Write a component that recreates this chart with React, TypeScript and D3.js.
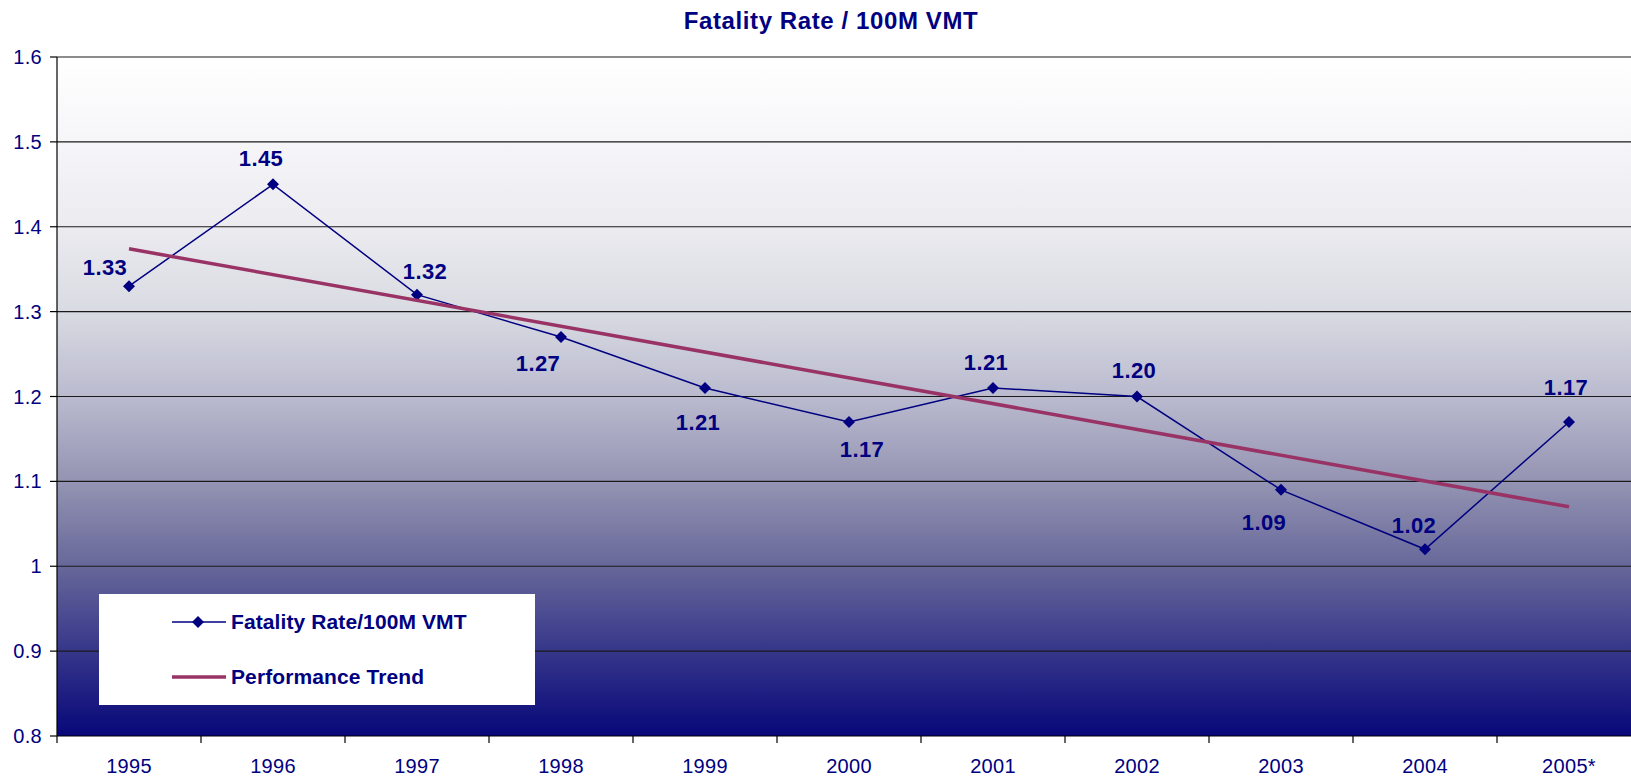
import React from "react";
import * as d3 from "d3";

const categories = ["1995", "1996", "1997", "1998", "1999", "2000", "2001", "2002", "2003", "2004", "2005*"];
const fatalityRate = [1.33, 1.45, 1.32, 1.27, 1.21, 1.17, 1.21, 1.2, 1.09, 1.02, 1.17];
const trendCategories = ["1995", "2005*"];
const trendValues = [1.374, 1.07];
const yTicks = [0.8, 0.9, 1.0, 1.1, 1.2, 1.3, 1.4, 1.5, 1.6];
const labelTexts = ["1.33", "1.45", "1.32", "1.27", "1.21", "1.17", "1.21", "1.20", "1.09", "1.02", "1.17"];
// label offsets (dx, dy of baseline) relative to the point, in pixels
const labelOffsets: [number, number][] = [
  [-24, -11], [-12, -18], [8, -16], [-23, 34], [-7, 42], [13, 35],
  [-7, -18], [-3, -19], [-17, 40], [-11, -16], [-3, -27],
];

const W = 1631;
const H = 778;
const M = { left: 57, top: 57, right: 1641, bottom: 736 };
const NAVY = "#000080";
const TREND = "#993366";
const FONT = "'Liberation Sans', Arial, sans-serif";

export default function App() {
  const x = d3.scaleBand<string>().domain(categories).range([M.left, M.right]).padding(0);
  const y = d3.scaleLinear().domain([0.8, 1.6]).range([M.bottom, M.top]);
  const cx = (c: string) => (x(c) as number) + x.bandwidth() / 2;

  const line = d3
    .line<number>()
    .x((_, i) => cx(categories[i]))
    .y((d) => y(d));
  const trendLine = d3
    .line<number>()
    .x((_, i) => cx(trendCategories[i]))
    .y((d) => y(d));

  const diamond = (px: number, py: number, r: number) =>
    `M${px},${py - r}L${px + r},${py}L${px},${py + r}L${px - r},${py}Z`;

  const boundaries = categories.map((c) => x(c) as number).concat([M.right]);

  return (
    <svg
      width={W}
      height={H}
      style={{ position: "absolute", left: 0, top: 0, display: "block", background: "#fff" }}
      fontFamily={FONT}
    >
      <defs>
        <linearGradient id="bg" x1="0" y1="0" x2="0" y2="1">
          <stop offset="0" stopColor="#ffffff" />
          <stop offset="0.125" stopColor="#f6f6f9" />
          <stop offset="0.25" stopColor="#ebebf0" />
          <stop offset="0.375" stopColor="#d9dbe2" />
          <stop offset="0.5" stopColor="#babacf" />
          <stop offset="0.625" stopColor="#9494b3" />
          <stop offset="0.75" stopColor="#67679a" />
          <stop offset="0.875" stopColor="#36368a" />
          <stop offset="1" stopColor="#07077a" />
        </linearGradient>
        <clipPath id="clip">
          <rect x={0} y={0} width={W} height={H} />
        </clipPath>
      </defs>

      <text x={831} y={29} textAnchor="middle" fontSize={24} fontWeight="bold" fill={NAVY} letterSpacing={0.6}>
        Fatality Rate / 100M VMT
      </text>

      <rect x={M.left} y={M.top} width={M.right - M.left} height={M.bottom - M.top} fill="url(#bg)" />

      {yTicks.map((t) => (
        <g key={t}>
          {t > 0.8 && (
            <line x1={M.left} x2={M.right} y1={y(t)} y2={y(t)} stroke="#1a1a1a" strokeWidth={1.2} />
          )}
          <line x1={M.left - 7} x2={M.left} y1={y(t)} y2={y(t)} stroke="#000" strokeWidth={1.2} />
          <text x={42} y={y(t) + 7} textAnchor="end" fontSize={20} fill={NAVY} letterSpacing={0.3}>
            {d3.format("")(+t.toFixed(1))}
          </text>
        </g>
      ))}

      <line x1={M.left} x2={M.left} y1={M.top} y2={M.bottom} stroke="#000" strokeWidth={1.2} />
      <line x1={M.left} x2={M.right} y1={M.bottom} y2={M.bottom} stroke="#000" strokeWidth={1.2} />
      {boundaries.map((b, i) => (
        <line key={i} x1={b} x2={b} y1={M.bottom} y2={M.bottom + 7} stroke="#000" strokeWidth={1.2} />
      ))}
      {categories.map((c) => (
        <text key={c} x={cx(c)} y={773} textAnchor="middle" fontSize={20} fill={NAVY} letterSpacing={0.3}>
          {c}
        </text>
      ))}

      <rect x={99} y={594} width={436} height={111} fill="#ffffff" />
      <line x1={172} x2={226} y1={622} y2={622} stroke={NAVY} strokeWidth={1.5} />
      <path d={diamond(198, 622, 6)} fill={NAVY} />
      <text x={231} y={629} fontSize={21} fontWeight="bold" fill={NAVY} letterSpacing={0.1}>
        Fatality Rate/100M VMT
      </text>
      <line x1={172} x2={226} y1={677} y2={677} stroke={TREND} strokeWidth={3.5} />
      <text x={231} y={684} fontSize={21} fontWeight="bold" fill={NAVY} letterSpacing={0.1}>
        Performance Trend
      </text>

      <g clipPath="url(#clip)">
        <path d={line(fatalityRate) || ""} fill="none" stroke={NAVY} strokeWidth={1.5} />
        {fatalityRate.map((v, i) => (
          <path key={i} d={diamond(cx(categories[i]), y(v), 6)} fill={NAVY} />
        ))}
        <path d={trendLine(trendValues) || ""} fill="none" stroke={TREND} strokeWidth={3.5} />
        {fatalityRate.map((v, i) => (
          <text
            key={"l" + i}
            x={cx(categories[i]) + labelOffsets[i][0]}
            y={y(v) + labelOffsets[i][1]}
            textAnchor="middle"
            fontSize={22}
            fontWeight="bold"
            fill={NAVY}
            letterSpacing={0.4}
          >
            {labelTexts[i]}
          </text>
        ))}
      </g>
    </svg>
  );
}
